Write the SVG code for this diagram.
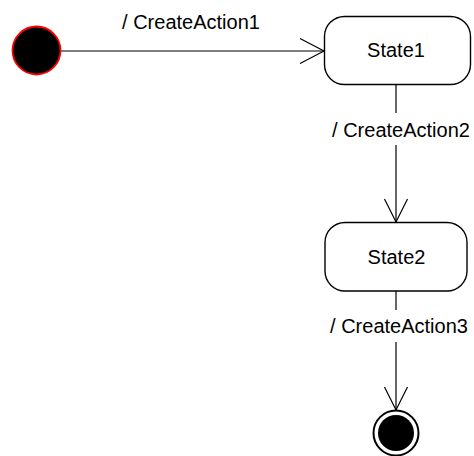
<svg xmlns="http://www.w3.org/2000/svg" width="474" height="456" viewBox="0 0 474 456">
  <style>
    .state { fill: #ffffff; stroke: #000000; stroke-width: 1.4; }
    .label { font-family: "Liberation Sans", Arial, sans-serif; font-size: 20px; fill: #000000; text-anchor: middle; }
    .edge { fill: none; stroke: #000000; stroke-width: 1.2; }
    .head { fill: none; stroke: #000000; stroke-width: 1.2; }
  </style>
  <rect width="474" height="456" fill="#ffffff"/>

  <g id="connectors">
    <!-- initial -> State1 -->
    <g id="t1">
      <line class="edge" x1="60" y1="51" x2="324" y2="51"/>
      <polyline class="head" points="300,38.5 324,51 300,63.5"/>
      <text class="label" x="191" y="29">/ CreateAction1</text>
    </g>
    <!-- State1 -> State2 -->
    <g id="t2">
      <line class="edge" x1="396" y1="85" x2="396" y2="113"/>
      <line class="edge" x1="396" y1="145" x2="396" y2="222"/>
      <polyline class="head" points="384.5,199 396,222 407.5,199"/>
      <text class="label" x="401" y="137">/ CreateAction2</text>
    </g>
    <!-- State2 -> final -->
    <g id="t3">
      <line class="edge" x1="396" y1="291" x2="396" y2="310"/>
      <line class="edge" x1="396" y1="342" x2="396" y2="410"/>
      <polyline class="head" points="384.5,387 396,410 407.5,387"/>
      <text class="label" x="399" y="333">/ CreateAction3</text>
    </g>
  </g>

  <g id="initial">
    <circle cx="36.5" cy="50.5" r="24" fill="#000000" stroke="#ff0000" stroke-width="1.8"/>
  </g>

  <g id="State1">
    <rect class="state" x="324.5" y="16.5" width="146" height="68" rx="20" ry="20"/>
    <text class="label" x="396" y="57">State1</text>
  </g>

  <g id="State2">
    <rect class="state" x="325" y="222.5" width="142" height="68.5" rx="20" ry="20"/>
    <text class="label" x="396.5" y="264">State2</text>
  </g>

  <g id="final">
    <circle cx="396" cy="433" r="22.5" fill="#ffffff" stroke="#000000" stroke-width="2"/>
    <circle cx="396" cy="433" r="18" fill="#000000"/>
  </g>
</svg>
